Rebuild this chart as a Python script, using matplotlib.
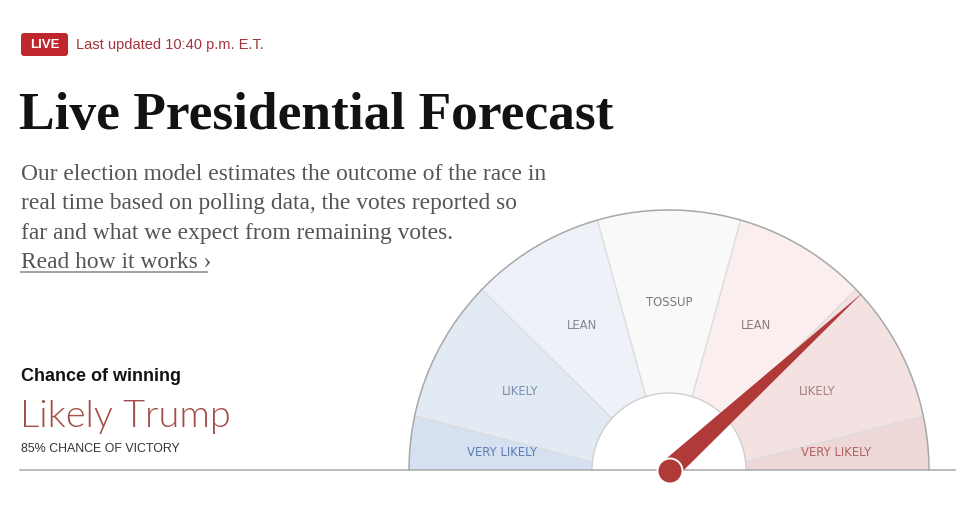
import matplotlib
matplotlib.use('Agg')
import matplotlib.pyplot as plt
from matplotlib.patches import Polygon, Circle, FancyBboxPatch
import numpy as np

# gauge data
segment_labels = ['VERY LIKELY', 'LIKELY', 'LEAN', 'TOSSUP', 'LEAN', 'LIKELY', 'VERY LIKELY']
segment_colors = ['#d5e1f0', '#e2eaf4', '#eef2f8', '#f9f9f9', '#fbeeee', '#f4e2e2', '#eed7d7']
label_colors = ['#5e7bb3', '#7a8fb0', '#7f8898', '#7a7a7a', '#8f7a7a', '#a57f7f', '#b2625f']
# segment edges in degrees (outer arc / inner arc), left to right
outer_edges = [180, 168, 136, 106, 74, 44, 12, 0]
inner_edges = [180, 174, 138, 107.5, 72.5, 42, 6, 0]

candidate = 'Trump'
rating = 'Likely'
chance = 0.85
# chance -> needle angle for each rating boundary on the Trump side
chance_steps = [0.5, 0.6, 0.845, 0.95, 1.0]
angle_steps = [90, 74, 44, 12, 0]

body_lines = ['Our election model estimates the outcome of the race in',
              'real time based on polling data, the votes reported so',
              'far and what we expect from remaining votes.']

W, H = 973, 507
fig = plt.figure(figsize=(W / 100, H / 100), dpi=100)
ax = fig.add_axes([0, 0, 1, 1])
ax.set_xlim(0, W)
ax.set_ylim(H, 0)
ax.set_aspect('equal')
ax.axis('off')

cx, cy = 669, 470
r_out, r_in = 260, 77


def pt(r, deg):
    a = np.radians(deg)
    return cx + r * np.cos(a), cy - r * np.sin(a)


# gauge segments
for i, lab in enumerate(segment_labels):
    a0, a1 = outer_edges[i], outer_edges[i + 1]
    b0, b1 = inner_edges[i], inner_edges[i + 1]
    outer = [pt(r_out, a) for a in np.linspace(a0, a1, 60)]
    inner = [pt(r_in, b) for b in np.linspace(b1, b0, 30)]
    ax.add_patch(Polygon(outer + inner, closed=True, facecolor=segment_colors[i],
                         edgecolor='none', zorder=1))
    lx, ly = pt(168, (a0 + a1) / 2)
    ax.text(lx, ly, lab, color=label_colors[i], fontsize=8.4, ha='center', va='center',
            family='DejaVu Sans', zorder=3)

# boundary lines between segments
for a, b in zip(outer_edges[1:-1], inner_edges[1:-1]):
    x0, y0 = pt(r_out, a)
    x1, y1 = pt(r_in, b)
    ax.plot([x0, x1], [y0, y1], color='#dcdcdc', lw=1, zorder=2)

t = np.linspace(0, 180, 200)
ax.plot(*zip(*[pt(r_out, a) for a in t]), color='#a8a8a8', lw=1.1, zorder=2)
ax.plot(*zip(*[pt(r_in, a) for a in t]), color='#cfcfcf', lw=1, zorder=2)
ax.plot([20, 955], [cy, cy], color='#a8a8a8', lw=1.1, zorder=2)

# needle
needle_deg = np.interp(chance, chance_steps, angle_steps)
na = np.radians(needle_deg)
tip = (cx + 263 * np.cos(na), cy - 263 * np.sin(na))
perp = np.array([np.sin(na), np.cos(na)])
base_l = np.array([cx, cy]) + 10.5 * perp
base_r = np.array([cx, cy]) - 10.5 * perp
ax.add_patch(Polygon([base_l, tip, base_r], closed=True, facecolor='#b03a38',
                     edgecolor='none', zorder=5))
ax.add_patch(Circle((cx + 1, cy + 1), 12.5, facecolor='#b03a38', edgecolor='white',
                    lw=1.4, zorder=6))

# header
ax.add_patch(FancyBboxPatch((21, 33), 47, 23, boxstyle='round,pad=0,rounding_size=3',
                            facecolor='#c0272d', edgecolor='none'))
ax.text(44.5, 45, 'LIVE', color='white', fontsize=9.5, fontweight='bold',
        ha='center', va='center', family='Liberation Sans')
ax.text(76, 45.5, 'Last updated 10:40 p.m. E.T.', color='#a3333b', fontsize=10.5,
        ha='left', va='center', family='Liberation Sans')

ax.text(19, 129, 'Live Presidential Forecast', color='#121212', fontsize=38.5,
        fontweight='bold', ha='left', va='baseline', family='Liberation Serif')

for k, line in enumerate(body_lines):
    ax.text(21, 180 + k * 29.5, line, color='#555555', fontsize=16.9,
            ha='left', va='baseline', family='Liberation Serif')
ax.text(21, 268.5, 'Read how it works \u203a', color='#555555', fontsize=16.9,
        ha='left', va='baseline', family='Liberation Serif')
ax.plot([21, 207], [272, 272], color='#9a9a9a', lw=1.3)

# chance of winning
ax.text(21, 381, 'Chance of winning', color='#121212', fontsize=13, fontweight='bold',
        ha='left', va='baseline', family='Liberation Sans')
ax.text(20, 427, f'{rating} {candidate}', color='#a54d4a', fontsize=27.3,
        fontweight=300, ha='left', va='baseline', family=['Lato', 'DejaVu Sans'])
ax.text(21, 452, f'{round(chance * 100)}% CHANCE OF VICTORY', color='#333333',
        fontsize=8.9, ha='left', va='baseline', family='Liberation Sans')

fig.savefig('out.png', dpi=100)
